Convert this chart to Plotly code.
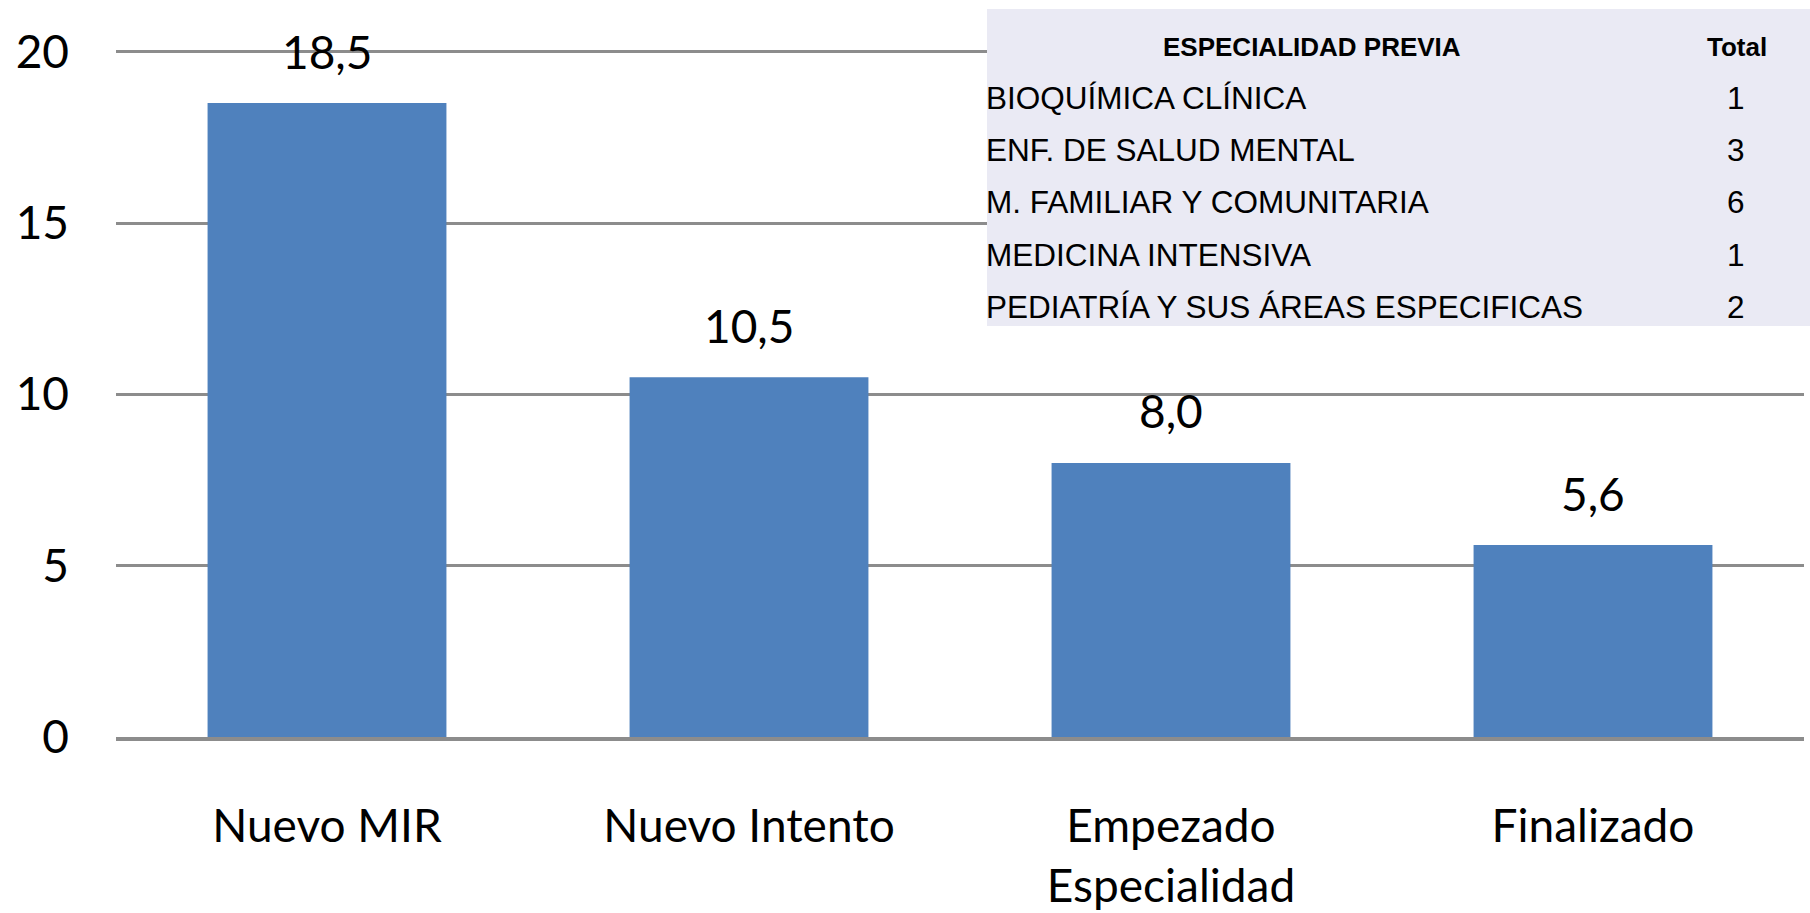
import plotly.graph_objects as go

# ---- data ----
categories = ["Nuevo MIR", "Nuevo Intento", "Empezado<br>Especialidad", "Finalizado"]
values = [18.5, 10.5, 8.0, 5.6]
y_ticks = [0, 5, 10, 15, 20]

table_header = ["ESPECIALIDAD PREVIA", "Total"]
table_specialties = [
    "BIOQUÍMICA CLÍNICA",
    "ENF. DE SALUD MENTAL",
    "M. FAMILIAR Y COMUNITARIA",
    "MEDICINA INTENSIVA",
    "PEDIATRÍA Y SUS ÁREAS ESPECIFICAS",
]
table_totals = [1, 3, 6, 1, 2]

# ---- layout geometry (pixels) ----
W, H = 1810, 913
Y_MAX = 20.05
L, R, T, B = 116, 6, 50, 176
PW, PH = W - L - R, H - T - B

def px_x(px):
    return (px - L) / PW

def px_y(py):
    return (H - B - py) / PH

FONT = "Lato, Carlito, Calibri, sans-serif"
TFONT = "Liberation Sans, Arial, sans-serif"
BAR = "#4F81BD"
GRID = "#8C8C8C"

fig = go.Figure()
fig.add_trace(go.Bar(
    x=categories, y=values,
    marker=dict(color=BAR, line=dict(width=0)),
    width=0.566,
    hoverinfo="x+y",
))

annotations = []
for c, v in zip(categories, values):
    annotations.append(dict(
        x=c, y=v, xref="x", yref="y",
        text=f"{v:.1f}".replace(".", ","),
        showarrow=False, yanchor="middle", yshift=52,
        font=dict(family=FONT, size=46, color="black"),
    ))

# table (specialty list)
tab_x0, tab_x1, tab_y0, tab_y1 = 987, 1810, 9, 326
shapes = [dict(
    type="rect", xref="paper", yref="paper",
    x0=px_x(tab_x0), x1=px_x(tab_x1), y0=px_y(tab_y1), y1=px_y(tab_y0),
    fillcolor="#EAEAF4", line=dict(width=0), layer="above",
)]
row_y0, row_step = 98, 52.2
annotations.append(dict(
    x=px_x(1312), y=px_y(47), xref="paper", yref="paper",
    text=f"<b>{table_header[0]}</b>", showarrow=False,
    xanchor="center", yanchor="middle",
    font=dict(family=TFONT, size=26, color="black"),
))
annotations.append(dict(
    x=px_x(1737), y=px_y(47), xref="paper", yref="paper",
    text=f"<b>{table_header[1]}</b>", showarrow=False,
    xanchor="center", yanchor="middle",
    font=dict(family=TFONT, size=26, color="black"),
))
for i, (s, t) in enumerate(zip(table_specialties, table_totals)):
    yy = px_y(row_y0 + i * row_step)
    annotations.append(dict(
        x=px_x(tab_x0 - 3), y=yy, xref="paper", yref="paper",
        text=s, showarrow=False, xanchor="left", yanchor="middle",
        font=dict(family=TFONT, size=31.5, color="black"),
    ))
    annotations.append(dict(
        x=px_x(1736), y=yy, xref="paper", yref="paper",
        text=str(t), showarrow=False, xanchor="center", yanchor="middle",
        font=dict(family=TFONT, size=31.5, color="black"),
    ))

fig.update_layout(
    width=W, height=H,
    margin=dict(l=L, r=R, t=T, b=B, pad=0, autoexpand=False),
    paper_bgcolor="white", plot_bgcolor="white",
    showlegend=False,
    bargap=0.434,
    annotations=annotations,
    shapes=shapes,
    xaxis=dict(
        showgrid=False, zeroline=False, automargin=False,
        showline=True, linecolor=GRID, linewidth=4,
        ticks="", ticklabelstandoff=46,
        tickfont=dict(family=FONT, size=46, color="black"),
        fixedrange=True,
    ),
    yaxis=dict(
        range=[0, Y_MAX], tickvals=y_ticks, automargin=False,
        showgrid=True, gridcolor=GRID, gridwidth=3,
        zeroline=False, showline=False,
        ticks="", ticklabelstandoff=46,
        tickfont=dict(family=FONT, size=46, color="black"),
        fixedrange=True,
    ),
)

fig.write_html(
    "out.html",
    config={"displayModeBar": False},
    post_script="document.body.style.margin='0';document.body.style.overflow='hidden';",
)
